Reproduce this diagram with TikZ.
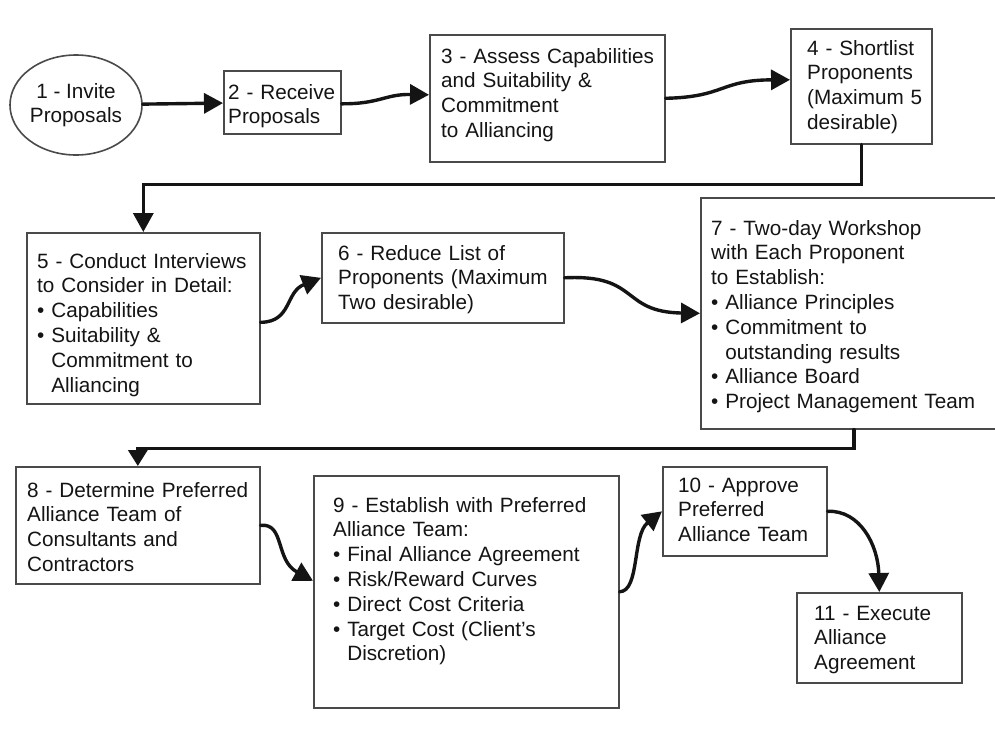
\documentclass[tikz,border=0pt]{standalone}
\usepackage{fontspec}
\setmainfont{Liberation Sans}
\usetikzlibrary{arrows.meta,shapes.geometric,calc}

\definecolor{ink}{HTML}{141414}
\definecolor{boxgray}{HTML}{4A4A4A}

\newcommand\flowtextfont{\fontsize{20.7}{24.8}\selectfont}
\newcommand\bul{\textbullet\ }
\newcommand\bulin{\phantom{\textbullet\ }}

\begin{document}
\begin{tikzpicture}[x=1pt,y=-1pt,
  box/.style={draw=boxgray, line width=1.6pt, fill=white, inner sep=0pt, anchor=north west},
  txt/.style={inner sep=0pt, anchor=base west, text width=320pt, align=left, font=\flowtextfont, text=ink},
  flow/.style={line width=3.4pt, draw=ink, line cap=round, -{Triangle[length=19pt,width=20pt]}},
  shortflow/.style={flow, -{Triangle[length=16pt,width=19pt]}},
]
\useasboundingbox (0,0) rectangle (995,729);
\clip (0,0) rectangle (995,729);
\fill[white] (0,0) rectangle (995,729);

% ---- stage boxes ----
\node[ellipse, draw=boxgray, line width=1.6pt, minimum width=132pt, minimum height=100pt,
      inner sep=0pt, align=center, font=\fontsize{20.7}{23.5}\selectfont, text=ink]
      (n1) at (76,105) {1 - Invite\\Proposals};
\node[box, minimum width=117pt, minimum height=63pt]  (n2)  at (223,70)  {};
\node[box, minimum width=235pt, minimum height=127pt] (n3)  at (429,34)  {};
\node[box, minimum width=141pt, minimum height=115pt] (n4)  at (790,28)  {};
\node[box, minimum width=233pt, minimum height=171pt] (n5)  at (26,232)  {};
\node[box, minimum width=242pt, minimum height=90pt]  (n6)  at (321,232) {};
\node[box, minimum width=306pt, minimum height=231pt] (n7)  at (700,197) {};
\node[box, minimum width=244pt, minimum height=117pt] (n8)  at (15,466)  {};
\node[box, minimum width=305pt, minimum height=232pt] (n9)  at (313,475) {};
\node[box, minimum width=164pt, minimum height=89pt]  (n10) at (662,466) {};
\node[box, minimum width=165pt, minimum height=90pt]  (n11) at (796,592) {};

% ---- box texts ----
\node[txt] (t2)  at (228,99)  {2 - Receive\\Proposals};
\node[txt] (t3)  at (441,63)  {3 - Assess Capabilities\\and Suitability \&\\Commitment\\to Alliancing};
\node[txt] (t4)  at (807,55)  {4 - Shortlist\\Proponents\\(Maximum 5\\desirable)};
\node[txt] (t5)  at (37,268)  {5 - Conduct Interviews\\to Consider in Detail:\\\bul Capabilities\\\bul Suitability \&\\\bulin Commitment to\\\bulin Alliancing};
\node[txt] (t6)  at (338,260) {6 - Reduce List of\\Proponents (Maximum\\Two desirable)};
\node[txt] (t7)  at (711,235) {7 - Two-day Workshop\\with Each Proponent\\to Establish:\\\bul Alliance Principles\\\bul Commitment to\\\bulin outstanding results\\\bul Alliance Board\\\bul Project Management Team};
\node[txt] (t8)  at (27,497)  {8 - Determine Preferred\\Alliance Team of\\Consultants and\\Contractors};
\node[txt] (t9)  at (333,512) {9 - Establish with Preferred\\Alliance Team:\\\bul Final Alliance Agreement\\\bul Risk/Reward Curves\\\bul Direct Cost Criteria\\\bul Target Cost (Client's\\\bulin Discretion)};
\node[txt] (t10) at (678,492) {10 - Approve\\Preferred\\Alliance Team};
\node[txt] (t11) at (814,620) {11 - Execute\\Alliance\\Agreement};

% ---- connectors ----
\draw[flow] (n1) -- (n2);
\draw[flow] ($(n2.east)+(0,1.5)$) .. controls (380,104) and (385,94) .. ($(n3.west)+(0,-3.5)$);
\draw[flow] (n3.east) .. controls (725,97) and (720,80) .. ($(n4.west)+(0,-6.5)$);
\draw[flow] (n4.south) -- ++(0,40) -| (n5.north);
\draw[flow] ($(n5.east)+(0,4)$) .. controls (292,322) and (285,292) .. (n6.west);
\draw[flow] (n6.east) .. controls (640,274) and (620,312) .. (n7.west);
\draw[shortflow] (n7.south) -- ++(0,19) -| (n8.north);
\draw[flow] (n8.east) .. controls (285,523) and (275,560) .. ($(n9.west)+(0,-11)$);
\draw[flow] (n9.east) .. controls (640,591) and (632,535) .. (n10.west);
\draw[flow] (n10.east) .. controls (860,510) and (878,545) .. (n11.north);
\end{tikzpicture}
\end{document}
